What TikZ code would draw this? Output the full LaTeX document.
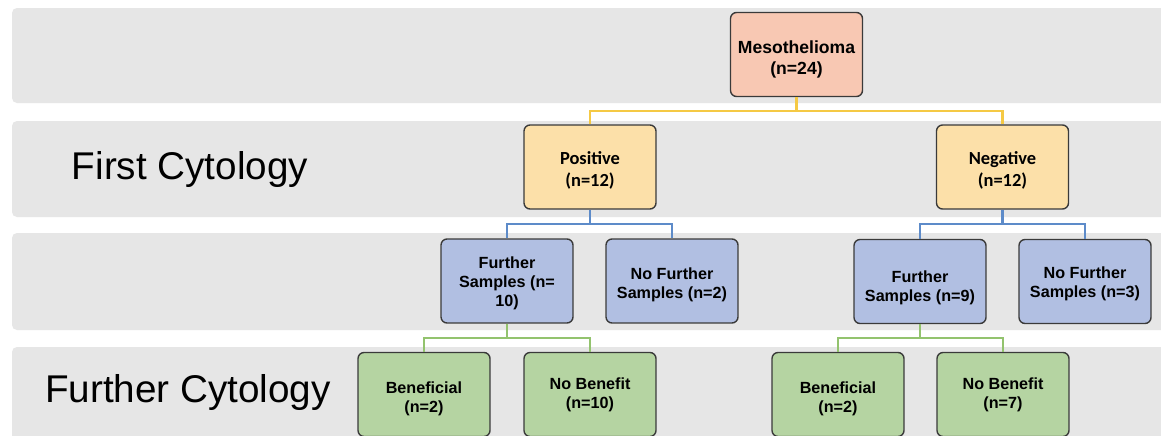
\documentclass[tikz,border=0pt]{standalone}
\usepackage{fontspec}
\setmainfont{Liberation Sans}
\newfontfamily\calfont{Carlito}
\usepackage{tikz}
\usetikzlibrary{positioning, calc}

\definecolor{bandgray}{HTML}{E6E6E6}
\definecolor{mesofill}{HTML}{F8C8B3}
\definecolor{cytofill}{HTML}{FCE0A9}
\definecolor{samplefill}{HTML}{B1BFE2}
\definecolor{benefitfill}{HTML}{B5D4A2}
\definecolor{yellowline}{HTML}{F5C944}
\definecolor{blueline}{HTML}{5D8BC9}
\definecolor{greenline}{HTML}{93C36E}
\definecolor{boxborder}{HTML}{3A3A3A}

% strut that pushes a box's text down a little
\newcommand{\lift}[1]{\rule{0pt}{#1}}

\begin{document}
\begin{tikzpicture}[
        x=0.02cm, y=-0.02cm,
        every node/.style={font=\bfseries\fontsize{9.2}{10.8}\selectfont, text=black, align=center},
        box/.style={draw=boxborder, line width=0.8pt, rounded corners=0.12cm, minimum width=2.64cm, minimum height=1.68cm, inner sep=1pt},
        band/.style={fill=bandgray, rounded corners=0.1cm},
        bandlabel/.style={font=\fontsize{22}{26}\selectfont},
        link/.style={line width=1.2pt}
    ]
        \clip (0,0) rectangle (1161,436);
        \fill[white] (0,0) rectangle (1161,436);

        % --- Bands (Background Layer) ---
        \fill[band] (12,8) rectangle (1180,103);
        \fill[band] (12,121) rectangle (1180,217);
        \fill[band] (12,233) rectangle (1180,330);
        \fill[band] (12,347) rectangle (1180,460);

        \node[bandlabel] (firstlabel) at (190,170) {First Cytology};
        \node[bandlabel] (furtherlabel) at (188,393) {Further Cytology};

        % --- Root ---
        \node[box, fill=mesofill, font=\bfseries\fontsize{10}{12}\selectfont] (meso) at (796.5,54.5) {\lift{13pt}Mesothelioma\\(n=24)};

        % --- First cytology ---
        \node[box, fill=cytofill, font=\calfont\bfseries\fontsize{10.5}{12.5}\selectfont] (pos) at (590,167) {\lift{11.5pt}Positive\\(n=12)};
        \node[box, fill=cytofill, font=\calfont\bfseries\fontsize{10.5}{12.5}\selectfont] (neg) at (1002.5,167) {\lift{11.5pt}Negative\\(n=12)};

        % --- Samples ---
        \node[box, fill=samplefill] (fsamp1) at (507,281) {\lift{9.3pt}Further\\Samples (n=\\10)};
        \node[box, fill=samplefill] (nofsamp1) at (672,281) {\lift{11pt}No Further\\Samples (n=2)};
        \node[box, fill=samplefill] (fsamp2) at (920,281.5) {\lift{13.8pt}Further\\Samples (n=9)};
        \node[box, fill=samplefill] (nofsamp2) at (1085,281.5) {\lift{9.8pt}No Further\\Samples (n=3)};

        % --- Further cytology ---
        \node[box, fill=benefitfill] (ben1) at (424,394.5) {\lift{12pt}Beneficial\\(n=2)};
        \node[box, fill=benefitfill] (nob1) at (590,394.5) {No Benefit\\(n=10)};
        \node[box, fill=benefitfill] (ben2) at (838,394.5) {\lift{12pt}Beneficial\\(n=2)};
        \node[box, fill=benefitfill] (nob2) at (1003,394.5) {No Benefit\\(n=7)};

        % --- Connectors ---
        \coordinate (busa) at ($(meso.south)!0.5!(pos.north)$);
        \draw[link, yellowline] (meso.south) -- (meso.south |- busa);
        \draw[link, yellowline] (pos.north) |- (busa) -| (neg.north);

        \coordinate (busb) at ($(pos.south)!0.5!(fsamp1.north)$);
        \draw[link, blueline] (pos.south) -- (pos.south |- busb);
        \draw[link, blueline] (fsamp1.north) |- (busb) -| (nofsamp1.north);

        \coordinate (busc) at ($(neg.south)!0.5!(fsamp2.north)$);
        \draw[link, blueline] (neg.south) -- (neg.south |- busc);
        \draw[link, blueline] (fsamp2.north) |- (busc) -| (nofsamp2.north);

        \coordinate (busd) at ($(fsamp1.south)!0.5!(ben1.north)$);
        \draw[link, greenline] (fsamp1.south) -- (fsamp1.south |- busd);
        \draw[link, greenline] (ben1.north) |- (busd) -| (nob1.north);

        \coordinate (buse) at ($(fsamp2.south)!0.5!(ben2.north)$);
        \draw[link, greenline] (fsamp2.south) -- (fsamp2.south |- buse);
        \draw[link, greenline] (ben2.north) |- (buse) -| (nob2.north);

    \end{tikzpicture}
\end{document}
